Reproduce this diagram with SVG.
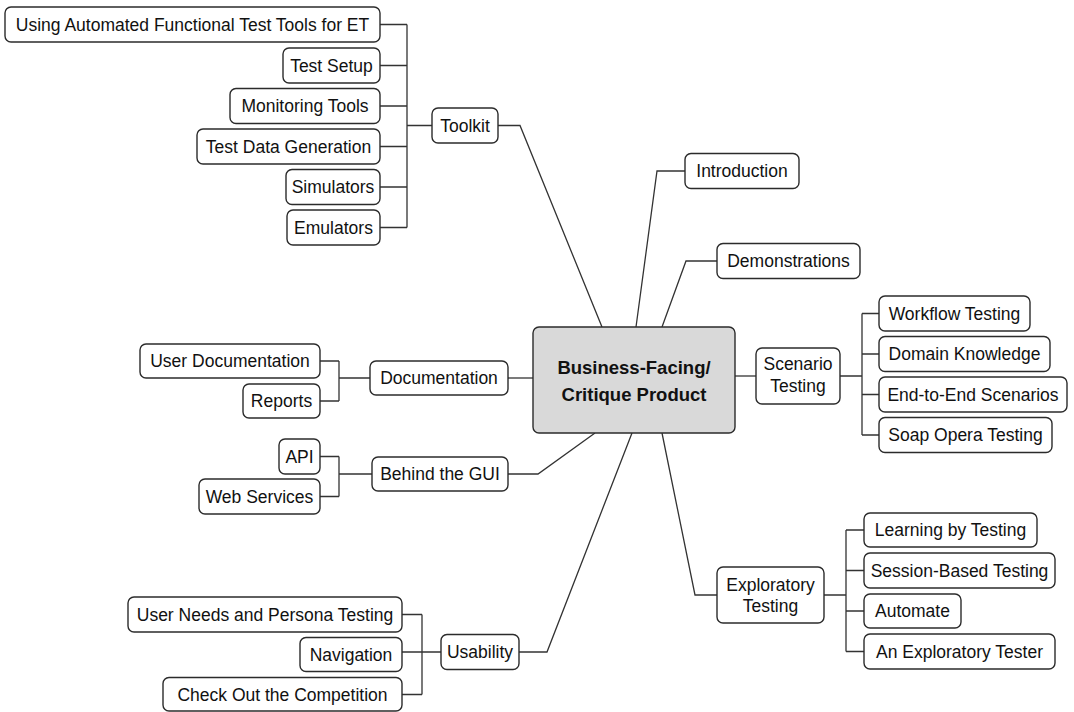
<svg xmlns="http://www.w3.org/2000/svg" width="1074" height="712" viewBox="0 0 1074 712">
<style>
  .box{fill:#ffffff;stroke:#2b2b2b;stroke-width:1.4}
  .root{fill:#d9d9d9;stroke:#2b2b2b;stroke-width:1.4}
  .t{font-family:"Liberation Sans",Arial,sans-serif;font-size:17.5px;fill:#111;text-anchor:middle}
  .rt{font-family:"Liberation Sans",Arial,sans-serif;font-size:18.5px;font-weight:bold;fill:#111;text-anchor:middle}
  .c{fill:none;stroke:#333;stroke-width:1.3}
</style>
<rect width="1074" height="712" fill="#ffffff"/>
<g id="connectors">
  <path class="c" d="M380,24.5H407M380,65.5H407M380,106H407M380,146.5H407M380,187H407M380,227.5H407M407,24.5V227.5M407,125.5H432"/>
  <path class="c" d="M498,125.5H520L602,327"/>
  <path class="c" d="M685,171H657L636,327"/>
  <path class="c" d="M717,261H686L662,327"/>
  <path class="c" d="M735,376H756"/>
  <path class="c" d="M840,376H862M862,313.5V435M862,313.5H879M862,354H879M862,394.5H879M862,435H879"/>
  <path class="c" d="M533,378H508"/>
  <path class="c" d="M370,378H339M339,361V401M320,361H339M320,401H339"/>
  <path class="c" d="M595,433L538,474H508"/>
  <path class="c" d="M372,474H339M339,456.5V496.5M320,456.5H339M320,496.5H339"/>
  <path class="c" d="M662,433L695,595H717"/>
  <path class="c" d="M824,595H846M846,530V651.5M846,530H864M846,570.5H864M846,611H864M846,651.5H864"/>
  <path class="c" d="M632,433L547,652H519"/>
  <path class="c" d="M402,652H441M422,614.5V694.5M402,614.5H422M402,694.5H422"/>
</g>
<g id="root">
  <rect class="root" x="533" y="327" width="202" height="106" rx="6"/>
  <text class="rt" x="634" y="374">Business-Facing/</text>
  <text class="rt" x="634" y="401">Critique Product</text>
</g>
<g id="toolkit"><rect class="box" x="432" y="108" width="66" height="35" rx="6"/><text class="t" x="465" y="131.5">Toolkit</text></g>
<g id="using-automated"><rect class="box" x="5" y="7" width="375" height="35" rx="6"/><text class="t" x="192.5" y="30.5">Using Automated Functional Test Tools for ET</text></g>
<g id="test-setup"><rect class="box" x="283" y="48" width="97" height="35" rx="6"/><text class="t" x="331.5" y="71.5">Test Setup</text></g>
<g id="monitoring-tools"><rect class="box" x="230" y="88.5" width="150" height="35" rx="6"/><text class="t" x="305" y="112">Monitoring Tools</text></g>
<g id="test-data-generation"><rect class="box" x="197" y="129" width="183" height="35" rx="6"/><text class="t" x="288.5" y="152.5">Test Data Generation</text></g>
<g id="simulators"><rect class="box" x="286" y="169.5" width="94" height="35" rx="6"/><text class="t" x="333" y="193">Simulators</text></g>
<g id="emulators"><rect class="box" x="287" y="210" width="93" height="35" rx="6"/><text class="t" x="333.5" y="233.5">Emulators</text></g>
<g id="introduction"><rect class="box" x="685" y="153.5" width="114" height="35" rx="6"/><text class="t" x="742" y="177">Introduction</text></g>
<g id="demonstrations"><rect class="box" x="717" y="243.5" width="143" height="35" rx="6"/><text class="t" x="788.5" y="267">Demonstrations</text></g>
<g id="scenario-testing"><rect class="box" x="756" y="348" width="84" height="56" rx="6"/><text class="t" x="798" y="370">Scenario</text><text class="t" x="798" y="392">Testing</text></g>
<g id="workflow-testing"><rect class="box" x="879" y="296" width="151" height="35" rx="6"/><text class="t" x="954.5" y="319.5">Workflow Testing</text></g>
<g id="domain-knowledge"><rect class="box" x="879" y="336.5" width="171" height="35" rx="6"/><text class="t" x="964.5" y="360">Domain Knowledge</text></g>
<g id="end-to-end"><rect class="box" x="879" y="377" width="188" height="35" rx="6"/><text class="t" x="973" y="400.5">End-to-End Scenarios</text></g>
<g id="soap-opera"><rect class="box" x="879" y="417.5" width="173" height="35" rx="6"/><text class="t" x="965.5" y="441">Soap Opera Testing</text></g>
<g id="documentation"><rect class="box" x="370" y="361" width="138" height="34" rx="6"/><text class="t" x="439" y="384">Documentation</text></g>
<g id="user-documentation"><rect class="box" x="140" y="344" width="180" height="34" rx="6"/><text class="t" x="230" y="367">User Documentation</text></g>
<g id="reports"><rect class="box" x="243" y="384" width="77" height="34" rx="6"/><text class="t" x="281.5" y="407">Reports</text></g>
<g id="behind-the-gui"><rect class="box" x="372" y="457" width="136" height="34" rx="6"/><text class="t" x="440" y="480">Behind the GUI</text></g>
<g id="api"><rect class="box" x="279" y="439" width="41" height="35" rx="6"/><text class="t" x="299.5" y="462.5">API</text></g>
<g id="web-services"><rect class="box" x="199" y="479" width="121" height="35" rx="6"/><text class="t" x="259.5" y="502.5">Web Services</text></g>
<g id="exploratory-testing"><rect class="box" x="717" y="567" width="107" height="56" rx="6"/><text class="t" x="770.5" y="591">Exploratory</text><text class="t" x="770.5" y="612">Testing</text></g>
<g id="learning-by-testing"><rect class="box" x="864" y="513" width="173" height="34" rx="6"/><text class="t" x="950.5" y="536">Learning by Testing</text></g>
<g id="session-based"><rect class="box" x="864" y="553" width="191" height="35" rx="6"/><text class="t" x="959.5" y="576.5">Session-Based Testing</text></g>
<g id="automate"><rect class="box" x="864" y="594" width="97" height="34" rx="6"/><text class="t" x="912.5" y="617">Automate</text></g>
<g id="exploratory-tester"><rect class="box" x="864" y="634" width="191" height="35" rx="6"/><text class="t" x="959.5" y="657.5">An Exploratory Tester</text></g>
<g id="usability"><rect class="box" x="441" y="634.5" width="78" height="35" rx="6"/><text class="t" x="480" y="658">Usability</text></g>
<g id="user-needs"><rect class="box" x="128" y="597" width="274" height="35" rx="6"/><text class="t" x="265" y="620.5">User Needs and Persona Testing</text></g>
<g id="navigation"><rect class="box" x="300" y="637.5" width="102" height="34" rx="6"/><text class="t" x="351" y="660.5">Navigation</text></g>
<g id="check-out"><rect class="box" x="163" y="677.5" width="239" height="33.5" rx="6"/><text class="t" x="282.5" y="700.5">Check Out the Competition</text></g>
</svg>
